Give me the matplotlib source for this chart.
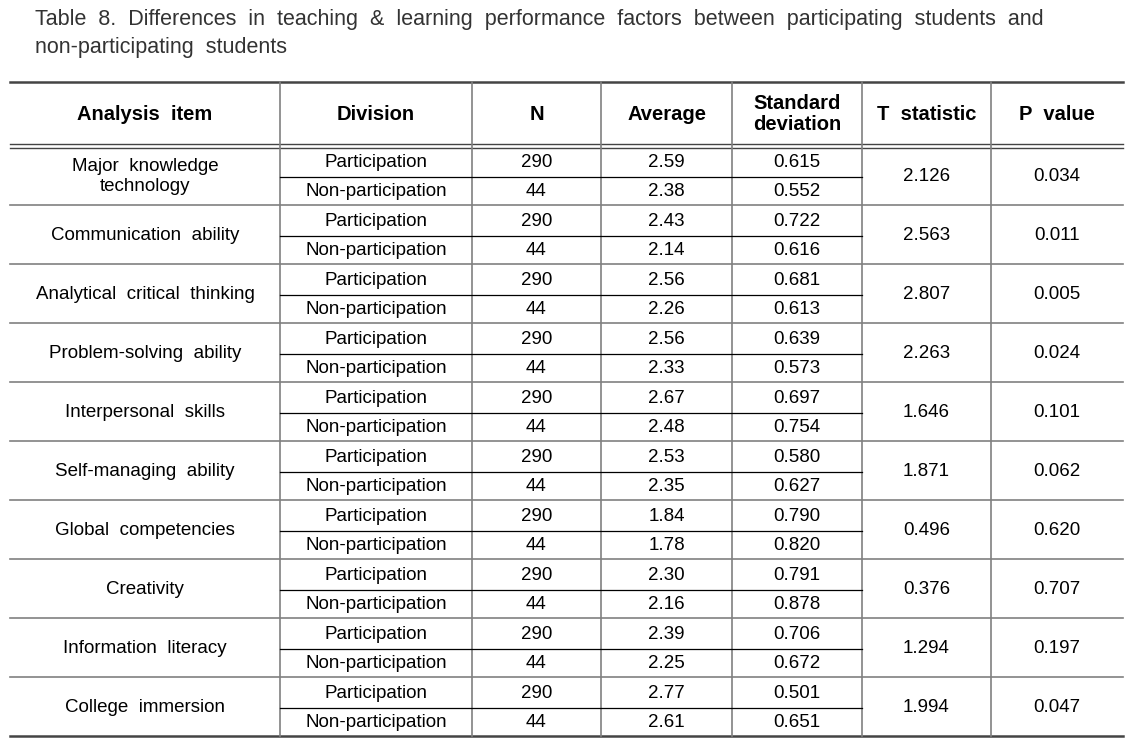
import matplotlib.pyplot as plt

title_lines = [
    "Table 8. Differences in teaching & learning performance factors between participating students and",
    "non-participating students",
]
headers = ["Analysis  item", "Division", "N", "Average", "Standard\ndeviation", "T  statistic", "P  value"]
items = ["Major knowledge\ntechnology", "Communication ability", "Analytical critical thinking",
         "Problem-solving ability", "Interpersonal skills", "Self-managing ability",
         "Global competencies", "Creativity", "Information literacy", "College immersion"]
divisions = ["Participation", "Non-participation"]
n_counts = [290, 44]
avg_part = ["2.59", "2.43", "2.56", "2.56", "2.67", "2.53", "1.84", "2.30", "2.39", "2.77"]
avg_non = ["2.38", "2.14", "2.26", "2.33", "2.48", "2.35", "1.78", "2.16", "2.25", "2.61"]
sd_part = ["0.615", "0.722", "0.681", "0.639", "0.697", "0.580", "0.790", "0.791", "0.706", "0.501"]
sd_non = ["0.552", "0.616", "0.613", "0.573", "0.754", "0.627", "0.820", "0.878", "0.672", "0.651"]
t_stat = ["2.126", "2.563", "2.807", "2.263", "1.646", "1.871", "0.496", "0.376", "1.294", "1.994"]
p_val = ["0.034", "0.011", "0.005", "0.024", "0.101", "0.062", "0.620", "0.707", "0.197", "0.047"]

W, H = 1142, 739
fig = plt.figure(figsize=(W / 100, H / 100), dpi=100)
ax = fig.add_axes([0, 0, 1, 1])
ax.set_xlim(0, W)
ax.set_ylim(H, 0)
ax.axis("off")

font = "Liberation Sans"
fs = 13.5
cols = [10, 280, 472, 601, 732, 862, 991, 1123]
top, head_bot, row_h = 82, 146, 59
centers = [(cols[i] + cols[i + 1]) / 2 for i in range(7)]

# title (source font has wide word gaps, so double the spaces)
for i, line in enumerate(title_lines):
    ax.text(35, 19 + i * 28, line.replace(" ", "  "), fontsize=15.5, family=font,
            color="#333333", va="center", ha="left")

# frame lines
ax.plot([cols[0], cols[-1]], [top, top], color="#444444", lw=1.8)
ax.plot([cols[0], cols[-1]], [head_bot - 2, head_bot - 2], color="#444444", lw=1.0)
ax.plot([cols[0], cols[-1]], [head_bot + 2, head_bot + 2], color="#444444", lw=1.0)
bottom = head_bot + 2 + row_h * len(items) - 2
for k in range(1, len(items)):
    y = head_bot + row_h * k
    ax.plot([cols[0], cols[-1]], [y, y], color="#808080", lw=1.2)
ax.plot([cols[0], cols[-1]], [bottom, bottom], color="#444444", lw=1.8)
for x in cols[1:-1]:
    ax.plot([x, x], [top, bottom], color="#808080", lw=1.2)

# header
for c, h in zip(centers, headers):
    ax.text(c, (top + head_bot) / 2, h, fontsize=14.5, family=font, weight="bold",
            ha="center", va="center", linespacing=1.1)

# body
for k, item in enumerate(items):
    y0 = head_bot + 2 + row_h * k
    ymid = y0 + row_h / 2 - 1
    ya = y0 + row_h / 4 - 0.5
    yb = y0 + 3 * row_h / 4 - 0.5
    ax.plot([cols[1], cols[5]], [ymid, ymid], color="black", lw=0.9)
    ax.text(centers[0], ymid, item.replace(" ", "  "), fontsize=fs, family=font,
            ha="center", va="center", linespacing=1.25)
    rows = [(divisions[0], n_counts[0], avg_part[k], sd_part[k]),
            (divisions[1], n_counts[1], avg_non[k], sd_non[k])]
    for y, vals in zip([ya, yb], rows):
        for c, v in zip(centers[1:5], vals):
            ax.text(c, y, str(v), fontsize=fs, family=font, ha="center", va="center")
    ax.text(centers[5], ymid, t_stat[k], fontsize=fs, family=font, ha="center", va="center")
    ax.text(centers[6], ymid, p_val[k], fontsize=fs, family=font, ha="center", va="center")

fig.savefig("out.png", dpi=100)
